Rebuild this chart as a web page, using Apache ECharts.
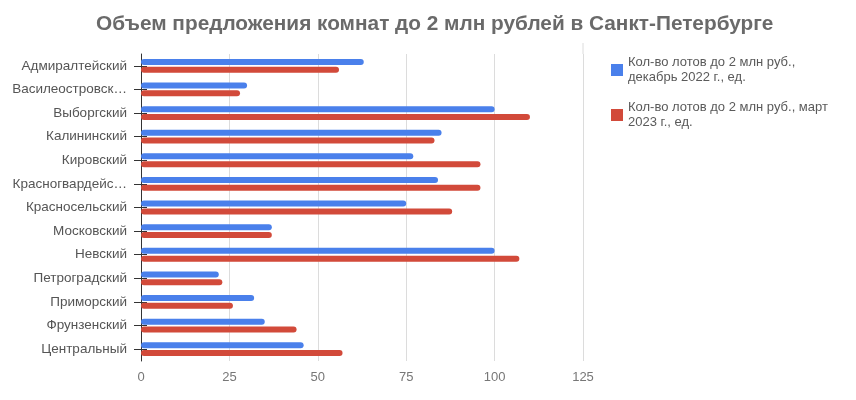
<!DOCTYPE html>
<html>
<head>
<meta charset="utf-8">
<script src="https://cdn.jsdelivr.net/npm/echarts@6/dist/echarts.min.js"></script>
<style>html,body{margin:0;padding:0;background:#fff}#c{width:856px;height:400px}</style>
</head>
<body>
<div id="c"></div>
<script>
const titleText = 'Объем предложения комнат до 2 млн рублей в Санкт-Петербурге';
const districts = ['Адмиралтейский','Василеостровский','Выборгский','Калининский','Кировский','Красногвардейский','Красносельский','Московский','Невский','Петроградский','Приморский','Фрунзенский','Центральный'];
const seriesNames = ['Кол-во лотов до 2 млн руб., декабрь 2022 г., ед.','Кол-во лотов до 2 млн руб., март 2023 г., ед.'];
const legendLabels = ['Кол-во лотов до 2 млн руб.,\nдекабрь 2022 г., ед.','Кол-во лотов до 2 млн руб., март\n2023 г., ед.'];
const dec2022 = [63,30,100,85,77,84,75,37,100,22,32,35,46];
const mar2023 = [56,28,110,83,96,96,88,37,107,23,26,44,57];
const xTicks = [0,25,50,75,100,125];

const font = 'Liberation Sans, Arial, Helvetica, sans-serif';
const chart = echarts.init(document.getElementById('c'), null, {renderer:'canvas'});
const grid = {left:141, width:442, top:54, height:307};
chart.setOption({
  animation:false,
  title:{text:titleText, left:91, top:9, textStyle:{fontFamily:font, fontSize:20.8, fontWeight:'bold', color:'#6a6a6a'}},
  legend:{
    orient:'vertical', left:606, top:50, itemWidth:12, itemHeight:12, itemGap:15,
    icon:'rect',
    data:seriesNames,
    formatter: n => legendLabels[seriesNames.indexOf(n)],
    textStyle:{fontFamily:font, fontSize:13, color:'#5a5a5a', lineHeight:15}
  },
  grid:grid,
  xAxis:{type:'value', min:xTicks[0], max:xTicks[xTicks.length-1], interval:25,
    axisLine:{show:false}, axisTick:{show:false},
    splitLine:{lineStyle:{color:'#dcdcdc'}},
    axisLabel:{fontFamily:font, fontSize:13, color:'#777', margin:10}},
  yAxis:[{type:'category', data:districts, inverse:true,
    axisLine:{lineStyle:{color:'#333', width:1}},
    axisTick:{show:true, alignWithLabel:true, length:7, lineStyle:{color:'#333'}},
    axisLabel:{fontFamily:font, fontSize:13.5, color:'#555', margin:14,
      formatter: v => v.length > 14 ? v.slice(0,14) + '…' : v}},
   {type:'category', data:districts, inverse:true, position:'left',
    axisLine:{show:false}, axisLabel:{show:false},
    axisTick:{show:true, inside:true, alignWithLabel:true, length:6, lineStyle:{color:'#333'}}}],
  series:[
    {name:seriesNames[0], type:'bar', data:dec2022, barWidth:6, barGap:'30%', itemStyle:{color:'#4A80EB', borderRadius:3}},
    {name:seriesNames[1], type:'bar', data:mar2023, barWidth:6, itemStyle:{color:'#D24A3A', borderRadius:3}}
  ],
  graphic:[{type:'line', shape:{x1:583,y1:43,x2:583,y2:54}, style:{stroke:'#dcdcdc', lineWidth:1}}]
});
</script>
</body>
</html>
